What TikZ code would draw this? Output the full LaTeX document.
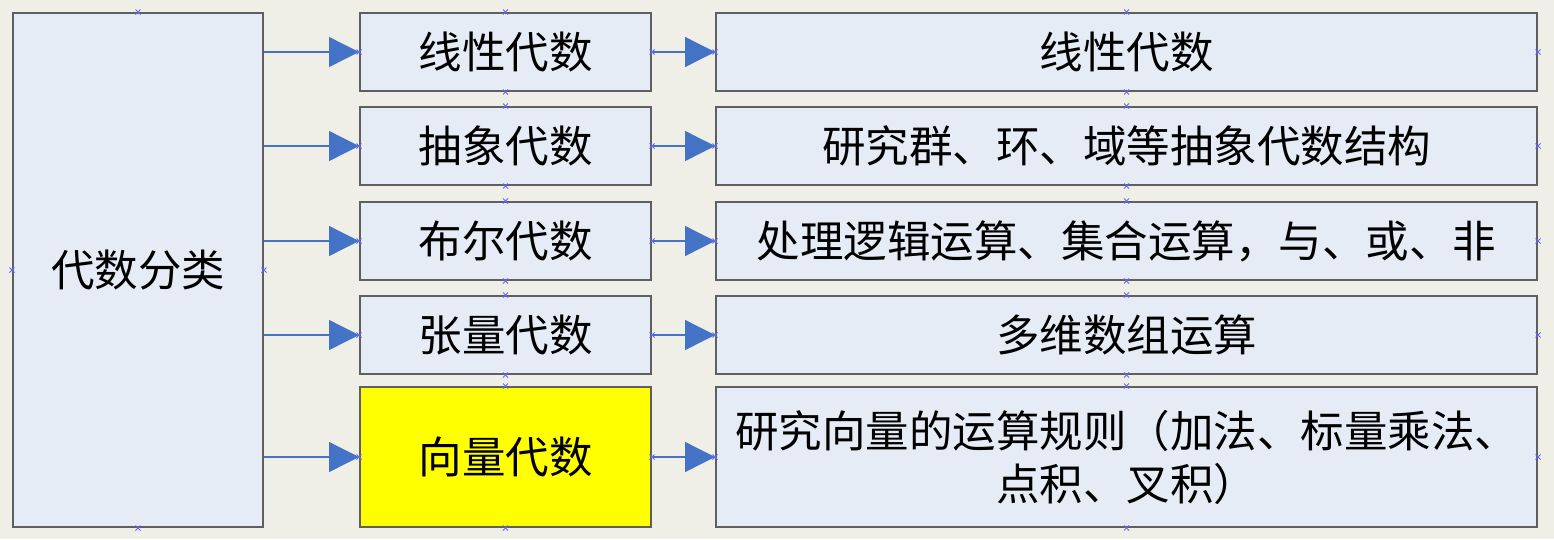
\documentclass[tikz,border=0pt]{standalone}
\usepackage{fontspec}
\newfontfamily\cjk{Noto Sans CJK SC}
\usetikzlibrary{arrows.meta}
\definecolor{bg}{RGB}{239,239,231}
\definecolor{boxfill}{RGB}{230,236,246}
\definecolor{boxline}{RGB}{95,95,95}
\definecolor{arrowblue}{RGB}{68,114,196}
\definecolor{markblue}{RGB}{100,100,255}
\definecolor{hl}{RGB}{255,255,0}
\begin{document}
\begin{tikzpicture}[x=1pt,y=-1pt,
  box/.style={draw=boxline, line width=2pt, fill=boxfill, align=center, inner sep=0pt,
    font=\cjk\fontsize{43.5}{53}\selectfont},
  leftbox/.style={box, minimum width=250pt, minimum height=514pt},
  midbox/.style={box, minimum width=291pt, minimum height=78pt},
  rightbox/.style={box, minimum width=821pt, minimum height=78pt},
  conn/.style={draw=arrowblue, line width=1.3pt, -{Triangle[length=30pt,width=30pt]}},
  xmarker/.style={draw=markblue, line width=1pt}]
\fill[bg] (0,0) rectangle (1554,539);
\useasboundingbox (0,0) rectangle (1554,539);

\node[leftbox] (L) at (138,270) {代数分类};

\node[midbox] (M1) at (505.5,52) {线性代数};
\node[midbox] (M2) at (505.5,146) {抽象代数};
\node[midbox] (M3) at (505.5,241) {布尔代数};
\node[midbox] (M4) at (505.5,335) {张量代数};
\node[midbox, fill=hl, minimum height=140pt] (M5) at (505.5,457) {向量代数};

\node[rightbox] (R1) at (1126.5,52) {线性代数};
\node[rightbox] (R2) at (1126.5,146) {研究群、环、域等抽象代数结构};
\node[rightbox] (R3) at (1126.5,241) {处理逻辑运算、集合运算，与、或、非};
\node[rightbox] (R4) at (1126.5,335) {多维数组运算};
\node[rightbox, minimum height=140pt] (R5) at (1126.5,457) {研究向量的运算规则（加法、标量乘法、\\点积、叉积）};

\foreach \i in {1,...,5} {
  \draw[conn] (L.east |- M\i.west) -- (M\i.west);
  \draw[conn] (M\i.east) -- (R\i.west);
}

\foreach \n in {L,M1,M2,M3,M4,M5,R1,R2,R3,R4,R5} {
  \foreach \a in {north,south,east,west} {
    \draw[xmarker] ([shift={(-2.5,-2.5)}]\n.\a) -- ([shift={(2.5,2.5)}]\n.\a);
    \draw[xmarker] ([shift={(-2.5,2.5)}]\n.\a) -- ([shift={(2.5,-2.5)}]\n.\a);
  }
}
\end{tikzpicture}
\end{document}
